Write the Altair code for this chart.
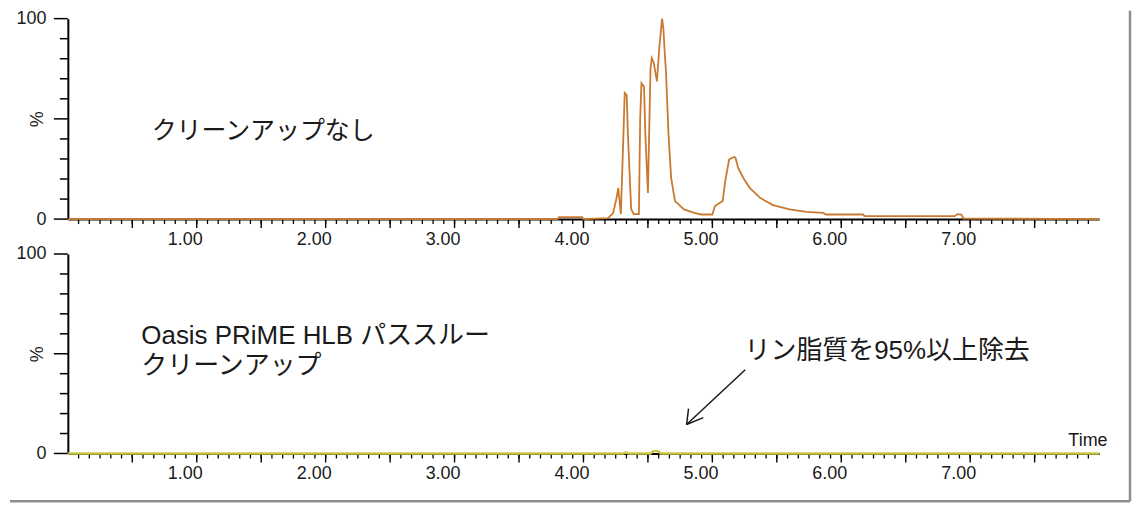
import altair as alt
import pandas as pd

# ---- data ----
top_time = [0.0, 3.80, 3.81, 3.99, 4.00, 4.19, 4.23, 4.255, 4.27, 4.29, 4.31, 4.32, 4.335, 4.345,
            4.37, 4.39, 4.43, 4.44, 4.45, 4.47, 4.48, 4.50, 4.52, 4.53, 4.545, 4.57, 4.59, 4.61,
            4.62, 4.63, 4.64, 4.66, 4.68, 4.71, 4.78, 4.86, 4.91, 5.00, 5.02, 5.08, 5.10, 5.13,
            5.15, 5.17, 5.18, 5.20, 5.24, 5.29, 5.37, 5.47, 5.60, 5.73, 5.86, 5.88, 6.17, 6.18,
            6.88, 6.90, 6.93, 6.95, 8.0]
top_pct = [0, 0, 1, 1, 0, 0.5, 3, 10, 15.6, 2.5, 42, 63, 62, 42,
           5, 2.5, 2.5, 50, 67.8, 66, 42, 13, 75, 80.3, 78, 68.7, 86.8, 100,
           95, 83.6, 73.6, 42, 20.5, 9, 4.8, 3.1, 2.3, 2.3, 6.5, 9, 19, 29.7,
           30.5, 31, 30.5, 25.5, 20.5, 15.6, 10.6, 7, 4.8, 3.6, 3.1, 2.3, 2.3, 1.5,
           1.5, 2.5, 2.3, 0.3, 0]

bottom_time = [0.0, 4.31, 4.33, 4.35, 4.52, 4.54, 4.58, 4.60, 8.0]
bottom_pct = [0, 0, 0.6, 0, 0, 1.2, 1.2, 0, 0]

top_label = ["クリーンアップなし"]
top_label_t = [0.65]
top_label_pct = [43.8]

bottom_label = ["Oasis PRiME HLB パススルー", "クリーンアップ"]
bottom_label_t = [0.57, 0.57]
bottom_label_pct = [59.0, 44.0]

note_label = ["リン脂質を95%以上除去"]
note_t = [5.25]
note_pct = [51.5]

arrow_seg = [0, 0, 1, 1, 2, 2]
arrow_t = [5.255, 4.80, 4.80, 4.815, 4.80, 4.93]
arrow_pct = [42.0, 14.5, 14.5, 22.5, 14.5, 18.0]

x_label_values = [1, 2, 3, 4, 5, 6, 7]
x_minor_ticks = [k / 12 for k in range(1, 96)]
x_major_ticks = [k / 2 for k in range(1, 16)]
y_label_values = [0, 100]
y_minor_ticks = [10, 20, 30, 40, 60, 70, 80, 90]
y_major_ticks = [0, 50, 100]

# ---- styling ----
W = 1034
H_TOP = 201
H_BOT = 200
TOP_COLOR = "#c97a30"
BOT_COLOR = "#c8c845"
TXT_FONT = "Liberation Sans, Noto Sans CJK JP"
AX_FONT = "Liberation Sans"
INK = "#1a1a1a"

x_scale = alt.Scale(domain=[0, 8], nice=False, zero=False)
y_scale = alt.Scale(domain=[0, 100], nice=False)


def x_axis(title=None):
    kw = dict(
        values=x_label_values, format=".2f", ticks=False,
        labelOffset=-12, labelPadding=11, labelOverlap=False, labelBound=False, labelFlush=False,
        labelFont=AX_FONT, labelFontSize=18, labelColor=INK,
        domainColor="black", domainWidth=2, grid=False,
    )
    if title:
        kw.update(title=title, titleAnchor="end", titleAlign="right", titleX=W + 8, titleY=-4,
                  titleBaseline="bottom", titleFont=AX_FONT, titleFontSize=18,
                  titleFontWeight="normal", titleColor=INK, titleAngle=0)
    else:
        kw.update(title=None)
    return alt.Axis(**kw)


def y_axis(h):
    return alt.Axis(
        values=y_label_values, ticks=False, labelPadding=22,
        labelOverlap=False, labelBound=False, labelFlush=False,
        labelFont=AX_FONT, labelFontSize=18, labelColor=INK,
        domainColor="black", domainWidth=2, grid=False,
        title="%", titleX=-30, titleY=h / 2, titleAngle=270, titleAlign="center",
        titleBaseline="middle", titleFont=AX_FONT, titleFontSize=18,
        titleFontWeight="normal", titleColor=INK,
    )


def panel(times, pcts, color, width, h, labels, lt, lp, fs, xtitle=None, extra=None):
    xa = x_axis(xtitle)
    ya = y_axis(h)
    X = lambda: alt.X("t:Q", scale=x_scale, axis=xa)
    Y = lambda: alt.Y("pct:Q", scale=y_scale, axis=ya)

    minor = alt.Chart(pd.DataFrame({"t": x_minor_ticks})).mark_rule(
        color="black", strokeWidth=1.3).encode(x=X(), y=alt.value(h), y2=alt.value(h + 5))
    major = alt.Chart(pd.DataFrame({"t": x_major_ticks})).mark_rule(
        color="black", strokeWidth=1.4).encode(x=X(), y=alt.value(h), y2=alt.value(h + 9))
    yminor = alt.Chart(pd.DataFrame({"pct": y_minor_ticks})).mark_rule(
        color="black", strokeWidth=1.5).encode(y=Y(), x=alt.value(0), x2=alt.value(-8))
    ymajor = alt.Chart(pd.DataFrame({"pct": y_major_ticks})).mark_rule(
        color="black", strokeWidth=1.5).encode(y=Y(), x=alt.value(0), x2=alt.value(-14))

    line = alt.Chart(pd.DataFrame({"t": times, "pct": pcts})).mark_line(
        color=color, strokeWidth=width).encode(x=X(), y=Y())
    txt = alt.Chart(pd.DataFrame({"t": lt, "pct": lp, "label": labels})).mark_text(
        align="left", baseline="middle", font=TXT_FONT, fontSize=fs, color=INK).encode(
        x=X(), y=Y(), text="label:N")
    layers = [minor, major, yminor, ymajor, line, txt]
    if extra:
        layers += [e(X, Y) for e in extra]
    return alt.layer(*layers).properties(width=W, height=h)


def note_layer(X, Y):
    return alt.Chart(pd.DataFrame({"t": note_t, "pct": note_pct, "label": note_label})).mark_text(
        align="left", baseline="middle", font=TXT_FONT, fontSize=26, color=INK).encode(
        x=X(), y=Y(), text="label:N")


def arrow_layer(X, Y):
    return alt.Chart(pd.DataFrame({"seg": arrow_seg, "t": arrow_t, "pct": arrow_pct})).mark_line(
        color=INK, strokeWidth=1.5).encode(x=X(), y=Y(), detail="seg:N")


def border_right(X, Y):
    return alt.Chart().mark_rule(color="#8f8f8f", strokeWidth=2.5).encode(
        x=alt.value(W + 31), y=alt.value(-244), y2=alt.value(H_BOT + 48))


def border_bottom(X, Y):
    return alt.Chart().mark_rule(color="#8f8f8f", strokeWidth=2.5).encode(
        x=alt.value(-58), x2=alt.value(W + 31), y=alt.value(H_BOT + 48))


top = panel(top_time, top_pct, TOP_COLOR, 1.8, H_TOP, top_label, top_label_t, top_label_pct, 25)
bottom = panel(bottom_time, bottom_pct, BOT_COLOR, 2.4, H_BOT, bottom_label, bottom_label_t,
               bottom_label_pct, 26, xtitle="Time",
               extra=[note_layer, arrow_layer, border_right, border_bottom])

chart = alt.vconcat(top, bottom, spacing=35, bounds="flush", padding=0,
                    background="white").configure_view(stroke=None)

chart.save("out.html", embed_options={"renderer": "svg", "actions": False})
